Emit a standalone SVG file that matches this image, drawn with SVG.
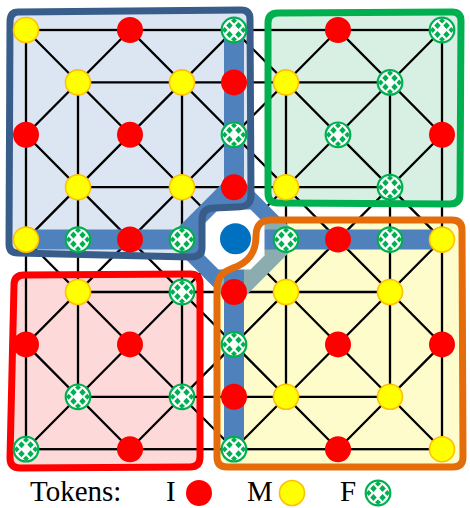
<svg xmlns="http://www.w3.org/2000/svg" xmlns:xlink="http://www.w3.org/1999/xlink" width="470" height="508" viewBox="0 0 470 508">
<style>
.ln{stroke:#000;stroke-width:2.3;fill:none}
.R{fill:#ff0000}
.Y{fill:#ffff00;stroke:#ffc000;stroke-width:1.6}
.txt{font-family:"Liberation Serif","Times New Roman",serif;font-size:29px;fill:#000}
.box{stroke-width:7;stroke-linejoin:round}
</style>
<defs>
<g id="tokF">
<circle r="12.3" fill="#fff" stroke="#00b050" stroke-width="2.2"/>
<g fill="#00b050">
<polygon points="-4.5,-8 -1.3,-4.5 -4.5,-1 -7.8,-4.5"/>
<polygon points="4.5,-8 7.8,-4.5 4.5,-1 1.3,-4.5"/>
<polygon points="-4.5,1 -1.3,4.5 -4.5,8 -7.8,4.5"/>
<polygon points="4.5,1 7.8,4.5 4.5,8 1.3,4.5"/>
<polygon points="0,-12 3,-9.3 0,-6.5 -3,-9.3"/>
<polygon points="0,6.5 3,9.3 0,12 -3,9.3"/>
<polygon points="-12,0 -9.3,-3 -6.5,0 -9.3,3"/>
<polygon points="6.5,0 9.3,-3 12,0 9.3,3"/>
</g>
</g>
<path id="orangePath" d="M217,457 L217,290 C217,276 223,272 233,268 C250,262 256,251 256,236 C256,225 261,220 272,220 L452,220 Q462,220 462,230 L463,457 Q463,467 453,467 L227,467 Q217,467 217,457 Z"/>
<path id="bluePath" d="M18,12 L241,10 Q250,10 250,19 L251,196 C251,204 246,207 236,207 L214,208 C206,208 202,212 202,220 L202,248 C202,254 198,257 190,257 L18,253 Q9,253 9,244 L10,22 Q10,12 18,12 Z"/>
<path id="greenPath" d="M278,13 L452,12 Q461,12 461,21 L460,194 Q460,204 450,204 L278,203 Q268,203 268,193 L268,23 Q268,13 278,13 Z"/>
<path id="redPath" d="M24,275 L190,274 Q200,274 200,284 L200,457 Q200,467 190,467 L20,468 Q10,468 10,458 L14,285 Q14,275 24,275 Z"/>
<clipPath id="dclip"><polygon points="234,171.6 302,239.6 234,307.6 166,239.6"/></clipPath>
</defs>
<rect width="470" height="508" fill="#fff"/>
<g id="region-fills">
<use xlink:href="#bluePath" fill="#dce6f2"/>
<use xlink:href="#greenPath" fill="#d7f0e3"/>
<use xlink:href="#redPath" fill="#fdd9d9"/>
<use xlink:href="#orangePath" fill="#fffccc"/>
</g>
<g id="connectors" class="ln">
<rect x="26" y="30" width="416" height="419.2"/>
<path d="M78,82.4V396.8 M182,82.4V396.8 M286,82.4V396.8 M390,82.4V396.8 M234,30V449.2"/>
<path d="M78,82.4H390 M78,187.2H390 M78,292H390 M78,396.8H390 M26,239.6H442"/>
<path d="M26,30L442,449.2 M442,30L26,449.2"/>
<path d="M234,30L442,239.6L234,449.2L26,239.6Z"/>
<path d="M130,30L26,134.8L130,239.6L234,134.8Z"/>
<path d="M338,30L234,134.8L338,239.6L442,134.8Z"/>
<path d="M130,239.6L26,344.4L130,449.2L234,344.4Z"/>
<path d="M338,239.6L234,344.4L338,449.2L442,344.4Z"/>
</g>
<g id="band">
<polygon points="234,171.6 302,239.6 234,307.6 166,239.6" fill="#4f81bd"/>
<use xlink:href="#orangePath" fill="#ffff99" fill-opacity="0.35" clip-path="url(#dclip)"/>
<path d="M234,30V449.2 M26,239.6H442" stroke="#4f81bd" stroke-width="20" fill="none"/>
<polygon points="218.5,209.6 250.5,209.6 264.5,223.6 264.5,255.6 250.5,269.6 218.5,269.6 204.5,255.6 204.5,223.6" fill="#fff"/>
</g>
<g id="center"><circle cx="235.5" cy="238.8" r="15.5" fill="#0070c0"/></g>
<g id="region-outlines" fill="none">
<use xlink:href="#bluePath" class="box" stroke="#385d8a"/>
<use xlink:href="#greenPath" class="box" stroke="#00b050" stroke-width="6.5"/>
<use xlink:href="#redPath" class="box" stroke="#ff0000"/>
<use xlink:href="#orangePath" class="box" stroke="#e46c0a"/>
</g>
<g id="nodes">
<g id="n0-0"><circle class="Y" cx="26" cy="30" r="12.5"/></g>
<g id="n0-2"><circle class="R" cx="130" cy="30" r="13"/></g>
<g id="n0-4"><use xlink:href="#tokF" x="234" y="30"/></g>
<g id="n0-6"><circle class="R" cx="338" cy="30" r="13"/></g>
<g id="n0-8"><use xlink:href="#tokF" x="442" y="30"/></g>
<g id="n1-1"><circle class="Y" cx="78" cy="82.4" r="12.5"/></g>
<g id="n1-3"><circle class="Y" cx="182" cy="82.4" r="12.5"/></g>
<g id="n1-4"><circle class="R" cx="234" cy="82.4" r="13"/></g>
<g id="n1-5"><circle class="Y" cx="286" cy="82.4" r="12.5"/></g>
<g id="n1-7"><use xlink:href="#tokF" x="390" y="82.4"/></g>
<g id="n2-0"><circle class="R" cx="26" cy="134.8" r="13"/></g>
<g id="n2-2"><circle class="R" cx="130" cy="134.8" r="13"/></g>
<g id="n2-4"><use xlink:href="#tokF" x="234" y="134.8"/></g>
<g id="n2-6"><use xlink:href="#tokF" x="338" y="134.8"/></g>
<g id="n2-8"><circle class="R" cx="442" cy="134.8" r="13"/></g>
<g id="n3-1"><circle class="Y" cx="78" cy="187.2" r="12.5"/></g>
<g id="n3-3"><circle class="Y" cx="182" cy="187.2" r="12.5"/></g>
<g id="n3-4"><circle class="R" cx="234" cy="187.2" r="13"/></g>
<g id="n3-5"><circle class="Y" cx="286" cy="187.2" r="12.5"/></g>
<g id="n3-7"><use xlink:href="#tokF" x="390" y="187.2"/></g>
<g id="n4-0"><circle class="Y" cx="26" cy="239.6" r="12.5"/></g>
<g id="n4-1"><use xlink:href="#tokF" x="78" y="239.6"/></g>
<g id="n4-2"><circle class="R" cx="130" cy="239.6" r="13"/></g>
<g id="n4-3"><use xlink:href="#tokF" x="182" y="239.6"/></g>
<g id="n4-5"><use xlink:href="#tokF" x="286" y="239.6"/></g>
<g id="n4-6"><circle class="R" cx="338" cy="239.6" r="13"/></g>
<g id="n4-7"><use xlink:href="#tokF" x="390" y="239.6"/></g>
<g id="n4-8"><circle class="Y" cx="442" cy="239.6" r="12.5"/></g>
<g id="n5-1"><circle class="Y" cx="78" cy="292" r="12.5"/></g>
<g id="n5-3"><use xlink:href="#tokF" x="182" y="292"/></g>
<g id="n5-4"><circle class="R" cx="234" cy="292" r="13"/></g>
<g id="n5-5"><circle class="Y" cx="286" cy="292" r="12.5"/></g>
<g id="n5-7"><circle class="Y" cx="390" cy="292" r="12.5"/></g>
<g id="n6-0"><circle class="R" cx="26" cy="344.4" r="13"/></g>
<g id="n6-2"><circle class="R" cx="130" cy="344.4" r="13"/></g>
<g id="n6-4"><use xlink:href="#tokF" x="234" y="344.4"/></g>
<g id="n6-6"><circle class="R" cx="338" cy="344.4" r="13"/></g>
<g id="n6-8"><circle class="R" cx="442" cy="344.4" r="13"/></g>
<g id="n7-1"><use xlink:href="#tokF" x="78" y="396.8"/></g>
<g id="n7-3"><use xlink:href="#tokF" x="182" y="396.8"/></g>
<g id="n7-4"><circle class="R" cx="234" cy="396.8" r="13"/></g>
<g id="n7-5"><circle class="Y" cx="286" cy="396.8" r="12.5"/></g>
<g id="n7-7"><circle class="Y" cx="390" cy="396.8" r="12.5"/></g>
<g id="n8-0"><use xlink:href="#tokF" x="26" y="449.2"/></g>
<g id="n8-2"><circle class="R" cx="130" cy="449.2" r="13"/></g>
<g id="n8-4"><use xlink:href="#tokF" x="234" y="449.2"/></g>
<g id="n8-6"><circle class="R" cx="338" cy="449.2" r="13"/></g>
<g id="n8-8"><circle class="Y" cx="442" cy="449.2" r="12.5"/></g>
</g>
<g id="legend">
<text class="txt" x="30" y="501">Tokens:</text>
<text class="txt" x="166" y="501">I</text>
<circle class="R" cx="199" cy="493" r="13"/>
<text class="txt" x="247" y="501">M</text>
<circle class="Y" cx="292" cy="493" r="12.5"/>
<text class="txt" x="340" y="501">F</text>
<use xlink:href="#tokF" x="378" y="493"/>
</g>
</svg>
